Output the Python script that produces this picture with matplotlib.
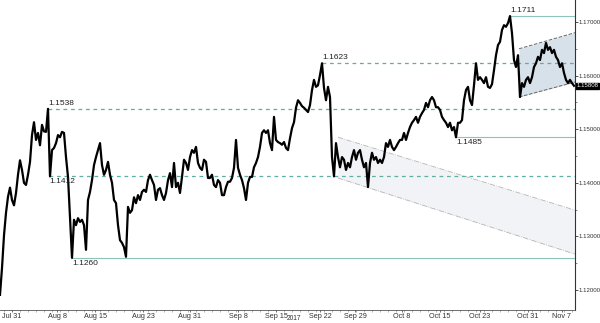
import matplotlib
matplotlib.use("Agg")
import matplotlib.pyplot as plt
import numpy as np

# EUR/USD, one value per 6h bar (bar index from the left edge of the chart)
price = [
    1.1191, 1.1241, 1.1302, 1.1344, 1.1374, 1.1391, 1.1368, 1.1358, 1.1381, 1.1415,
    1.1442, 1.1424, 1.1400, 1.1396, 1.1415, 1.1439, 1.1489, 1.1513, 1.1480, 1.1493,
    1.1470, 1.1508, 1.1496, 1.1495, 1.1538, 1.1412, 1.1461, 1.1465, 1.1474, 1.1489,
    1.1485, 1.1495, 1.1493, 1.1448, 1.1411, 1.1336, 1.1260, 1.1331, 1.1321, 1.1334,
    1.1327, 1.1331, 1.1321, 1.1275, 1.1368, 1.1383, 1.1405, 1.1433, 1.1448, 1.1461,
    1.1474, 1.1433, 1.1415, 1.1424, 1.1439, 1.1415, 1.1400, 1.1368, 1.1362, 1.1321,
    1.1293, 1.1288, 1.1280, 1.1262, 1.1355, 1.1344, 1.1349, 1.1373, 1.1362, 1.1377,
    1.1368, 1.1383, 1.1387, 1.1383, 1.1405, 1.1415, 1.1405, 1.1396, 1.1368, 1.1387,
    1.1390, 1.1377, 1.1368, 1.1381, 1.1405, 1.1418, 1.1392, 1.1437, 1.1392, 1.1400,
    1.1381, 1.1411, 1.1443, 1.1437, 1.1424, 1.1448, 1.1461, 1.1456, 1.1467, 1.1437,
    1.1428, 1.1424, 1.1443, 1.1439, 1.1409, 1.1409, 1.1415, 1.1396, 1.1392, 1.1405,
    1.1400, 1.1377, 1.1377, 1.1392, 1.1402, 1.1402, 1.1409, 1.1428, 1.1480, 1.1428,
    1.1415, 1.1405, 1.1390, 1.1368, 1.1400, 1.1411, 1.1411, 1.1429, 1.1437, 1.1448,
    1.1467, 1.1493, 1.1498, 1.1493, 1.1498, 1.1474, 1.1461, 1.1523, 1.1480, 1.1476,
    1.1474, 1.1471, 1.1476, 1.1465, 1.1461, 1.1483, 1.1502, 1.1513, 1.1540, 1.1554,
    1.1549, 1.1543, 1.1540, 1.1536, 1.1532, 1.1545, 1.1573, 1.1592, 1.1579, 1.1582,
    1.1601, 1.1623, 1.1577, 1.1554, 1.1579, 1.1560, 1.1448, 1.1412, 1.1474, 1.1448,
    1.1429, 1.1448, 1.1443, 1.1424, 1.1437, 1.1429, 1.1448, 1.1461, 1.1443, 1.1456,
    1.1461, 1.1443, 1.1429, 1.1437, 1.1392, 1.1437, 1.1456, 1.1443, 1.1448, 1.1437,
    1.1443, 1.1437, 1.1448, 1.1474, 1.1467, 1.1480, 1.1467, 1.1461, 1.1467, 1.1474,
    1.1480, 1.1480, 1.1493, 1.1480, 1.1493, 1.1504, 1.1512, 1.1517, 1.1523, 1.1512,
    1.1523, 1.1530, 1.1536, 1.1549, 1.1541, 1.1554, 1.1560, 1.1554, 1.1541, 1.1541,
    1.1536, 1.1523, 1.1517, 1.1512, 1.1504, 1.1512, 1.1498, 1.1504, 1.1485, 1.1512,
    1.1512, 1.1517, 1.1554, 1.1573, 1.1579, 1.1554, 1.1545, 1.1582, 1.1623, 1.1592,
    1.1597, 1.1592, 1.1586, 1.1597, 1.1579, 1.1577, 1.1584, 1.1610, 1.1638, 1.1657,
    1.1663, 1.1685, 1.1694, 1.1691, 1.1698, 1.1711, 1.1679, 1.1629, 1.1616, 1.1638,
    1.1560, 1.1586, 1.1579, 1.1592, 1.1597, 1.1586, 1.1597, 1.1616, 1.1623, 1.1635,
    1.1629, 1.1648, 1.1642, 1.1661, 1.1648, 1.1653, 1.1642, 1.1648, 1.1635, 1.1629,
    1.1616, 1.1623, 1.1605, 1.1592, 1.1586, 1.1592, 1.1586, 1.1581,
]
last_price = 1.15808

# x axis labels (bar positions)
tick_bars = [6, 28.5, 47.5, 71.5, 95, 119, 138, 160, 177.5, 201, 220, 240, 264, 281]
tick_labels = ["Jul 31", "Aug 8", "Aug 15", "Aug 23", "Aug 31", "Sep 8", "Sep 15",
               "Sep 22", "Sep 29", "Oct 8", "Oct 15", "Oct 23", "Oct 31", "Nov 7"]
year_bar = 147
year_label = "2017"

# marked levels: value, first bar, line style, label above/below
levels = [1.1711, 1.1623, 1.1538, 1.1485, 1.1412, 1.1260]
level_start = [255, 161, 24, 228, 24.5, 36]
level_style = ["-", "--", "--", "-", "--", "-"]
level_above = [True, True, True, False, False, False]

# channels: start bar, end bar, (lower, upper) at start and end
down_bars = [169, 287.5]
down_lower = [1.1409, 1.1267]
down_upper = [1.1485, 1.1349]
up_bars = [259.5, 287.5]
up_lower = [1.1560, 1.1588]
up_upper = [1.1650, 1.1680]

y_ticks = [1.12, 1.13, 1.14, 1.15, 1.16, 1.17]

plt.rcParams["font.family"] = ["Liberation Sans Narrow", "Liberation Sans", "DejaVu Sans"]
fig = plt.figure(figsize=(6, 3.23), dpi=100)
ax = fig.add_axes([0, 0.0402, 575 / 600, 0.9598])

bars = np.arange(len(price))
x_max = 287.5

# channels
ax.fill_between(down_bars, down_lower, down_upper, color="#f1f3f6", zorder=1, linewidth=0)
ax.plot(down_bars, down_lower, color="#b5b5b5", lw=0.6, ls="-.", zorder=2)
ax.plot(down_bars, down_upper, color="#b5b5b5", lw=0.6, ls="-.", zorder=2)
ax.fill_between(up_bars, up_lower, up_upper, color="#d7e1e9", zorder=1, linewidth=0)
ax.plot(up_bars, up_lower, color="#666666", lw=0.7, ls="--", zorder=2)
ax.plot(up_bars, up_upper, color="#666666", lw=0.7, ls="--", zorder=2)

# levels
for lvl, x0, ls, above in zip(levels, level_start, level_style, level_above):
    if ls == "--":
        ax.plot([x0, x_max], [lvl, lvl], color="#5fae9f", lw=0.9, ls=(0, (3, 3)), zorder=2)
    else:
        ax.plot([x0, x_max], [lvl, lvl], color="#8cc4bb", lw=0.8, zorder=2)
    ax.annotate(f"{lvl:.4f}", (x0, lvl), xytext=(0, 1.5 if above else -1.5),
                textcoords="offset points", fontsize=6, color="#222222",
                ha="left", va="bottom" if above else "top", zorder=4)

# price
ax.plot(bars, price, color="black", lw=1.6, zorder=3)

ax.set_xlim(0, x_max)
ax.set_ylim(1.11627, 1.17410)

ax.spines["left"].set_visible(False)
ax.spines["top"].set_visible(False)
ax.spines["right"].set_color("#333333")
ax.spines["bottom"].set_color("#555555")
ax.spines["right"].set_linewidth(0.8)
ax.spines["bottom"].set_linewidth(0.6)

ax.yaxis.tick_right()
ax.set_yticks(y_ticks)
ax.set_yticklabels([f"{v:.5f}" for v in y_ticks])
ax.set_yticks(np.array(y_ticks[:-1]) + 0.005, minor=True)
ax.tick_params(axis="y", which="major", length=2, width=0.6, labelsize=4.4,
               colors="#333333", pad=0.4)
ax.tick_params(axis="y", which="minor", length=1.5, width=0.5, colors="#555555")

ax.set_xticks(tick_bars)
ax.set_xticklabels(tick_labels)
ax.set_xticks(np.arange(2, x_max, 4), minor=True)
ax.tick_params(axis="x", which="major", length=1.5, width=0.5, labelsize=5.2,
               colors="#333333", pad=0.5)
ax.tick_params(axis="x", which="minor", length=1.2, width=0.4, colors="#777777")
ax.text(year_bar, -0.040, year_label, transform=ax.get_xaxis_transform(),
        fontsize=4.8, color="#333333", ha="center", va="bottom")

# last value tag
ax.annotate(f"{last_price:.5f}", xy=(1, last_price), xycoords=("axes fraction", "data"),
            xytext=(1.2, 0), textcoords="offset points", fontsize=4.4, color="white",
            ha="left", va="center",
            bbox=dict(boxstyle="square,pad=0.08", fc="black", ec="black"))

fig.savefig("out.png", dpi=100)
plt.close(fig)
